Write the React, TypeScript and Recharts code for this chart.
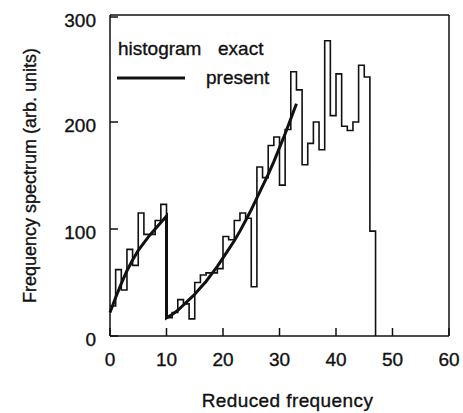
import React from 'react'
import { ComposedChart, Line, XAxis, YAxis, Legend } from 'recharts'

// histogram bins: bin i spans [i, i+1)
const BIN_VALUES = [
  28, 62, 43, 81, 66, 115, 95, 95, 108, 123,
  17, 22, 34, 30, 16, 50, 57, 59, 59, 63,
  93, 90, 108, 115, 110, 46, 158, 148, 178, 186,
  141, 193, 247, 230, 160, 180, 200, 174, 276, 206,
  245, 196, 192, 200, 253, 242, 98,
]

// "present" curve
const CURVE_X = [0, 1, 2, 3, 4, 5, 6, 7, 8, 9, 10, 10, 11, 12, 13, 14, 15, 16, 17, 18, 19, 20, 21, 22, 23, 24, 25, 26, 27, 28, 29, 30, 31, 32, 33]
const CURVE_Y = [22, 36, 49, 61, 71, 80, 87, 94, 100, 106, 112, 17, 20, 24, 29, 34, 39, 45, 51, 58, 65, 73, 81, 89, 98, 108, 118, 129, 140, 151, 163, 176, 189, 203, 217]

const X_TICKS = [0, 10, 20, 30, 40, 50, 60]
const Y_TICKS = [0, 100, 200, 300]

const histData = [
  ...BIN_VALUES.map((v, i) => ({ x: i, v })),
  { x: BIN_VALUES.length, v: 0 },
]
const curveData = CURVE_X.map((x, i) => ({ x, v: CURVE_Y[i] }))

const FONT = '"Liberation Sans", Arial, Helvetica, sans-serif'
const INK = '#111'
const TICK = 8

// scanned original has slightly heavy type
const txt = { fontFamily: FONT, fill: INK, stroke: INK, strokeWidth: 0.35 }

function BottomTick({ x, y, payload }: any) {
  return (
    <g>
      <line x1={x} y1={y} x2={x} y2={y - TICK} stroke={INK} strokeWidth={1.5} />
      <text x={x} y={y + 30} textAnchor="middle" fontSize={19} {...txt}>
        {payload.value}
      </text>
    </g>
  )
}

function TopTick({ x, y }: any) {
  return <line x1={x} y1={y} x2={x} y2={y + TICK} stroke={INK} strokeWidth={1.5} />
}

function LeftTick({ x, y, payload }: any) {
  return (
    <g>
      <line x1={x} y1={y} x2={x + TICK} y2={y} stroke={INK} strokeWidth={1.5} />
      <text x={x - 14} y={y + 10} textAnchor="end" fontSize={19} {...txt}>
        {payload.value}
      </text>
    </g>
  )
}

function RightTick({ x, y }: any) {
  return <line x1={x} y1={y} x2={x - TICK} y2={y} stroke={INK} strokeWidth={1.5} />
}

function XTitle({ viewBox }: any) {
  const cx = viewBox.x + viewBox.width / 2 + 8
  return (
    <text x={cx} y={viewBox.y + 71} textAnchor="middle" fontSize={19} letterSpacing={0.4} {...txt}>
      Reduced frequency
    </text>
  )
}

function YTitle({ viewBox }: any) {
  const cx = 28
  const cy = viewBox.y + viewBox.height / 2
  return (
    <text
      x={cx}
      y={cy}
      transform={`rotate(-90, ${cx}, ${cy})`}
      textAnchor="middle"
      fontSize={18}
      {...txt}
    >
      Frequency spectrum (arb. units)
    </text>
  )
}

function LegendBox() {
  return (
    <svg width={175} height={70} style={{ display: 'block' }}>
      <text x={8} y={25} fontSize={19} {...txt}>histogram</text>
      <text x={108} y={25} fontSize={19} {...txt}>exact</text>
      <line x1={7} y1={48} x2={75} y2={48} stroke={INK} strokeWidth={3} />
      <text x={96} y={54} fontSize={19} {...txt}>present</text>
    </svg>
  )
}

export default function App() {
  return (
    <div style={{ position: 'absolute', left: 8, top: 8, width: 455, height: 405, background: '#fff' }}>
      <ComposedChart width={455} height={405} margin={{ top: 0, right: 0, bottom: 0, left: 0 }}>
        <XAxis
          xAxisId="bottom"
          type="number"
          dataKey="x"
          domain={[0, 60]}
          ticks={X_TICKS}
          height={77}
          tickSize={0}
          tickMargin={0}
          tick={<BottomTick />}
          axisLine={{ stroke: INK, strokeWidth: 1.5 }}
          tickLine={false}
          label={<XTitle />}
        />
        <XAxis
          xAxisId="top"
          orientation="top"
          type="number"
          dataKey="x"
          domain={[0, 60]}
          ticks={X_TICKS}
          height={7}
          tickSize={0}
          tickMargin={0}
          tick={<TopTick />}
          axisLine={{ stroke: INK, strokeWidth: 1.5 }}
          tickLine={false}
        />
        <YAxis
          yAxisId="left"
          type="number"
          domain={[0, 300]}
          ticks={Y_TICKS}
          width={102}
          tickSize={0}
          tickMargin={0}
          tick={<LeftTick />}
          axisLine={{ stroke: INK, strokeWidth: 1.5 }}
          tickLine={false}
          label={<YTitle />}
        />
        <YAxis
          yAxisId="right"
          orientation="right"
          type="number"
          domain={[0, 300]}
          ticks={Y_TICKS}
          width={14}
          tickSize={0}
          tickMargin={0}
          tick={<RightTick />}
          axisLine={{ stroke: INK, strokeWidth: 1.5 }}
          tickLine={false}
        />
        <Legend
          layout="vertical"
          align="center"
          verticalAlign="middle"
          content={<LegendBox />}
          wrapperStyle={{ left: 102, top: 22, width: 175, height: 70 }}
        />
        <Line
          data={histData}
          xAxisId="bottom"
          yAxisId="left"
          dataKey="v"
          type="stepAfter"
          stroke={INK}
          strokeWidth={1.6}
          dot={false}
          activeDot={false}
          isAnimationActive={false}
        />
        <Line
          data={curveData}
          xAxisId="bottom"
          yAxisId="left"
          dataKey="v"
          type="linear"
          stroke={INK}
          strokeWidth={3}
          dot={false}
          activeDot={false}
          isAnimationActive={false}
        />
      </ComposedChart>
    </div>
  )
}
